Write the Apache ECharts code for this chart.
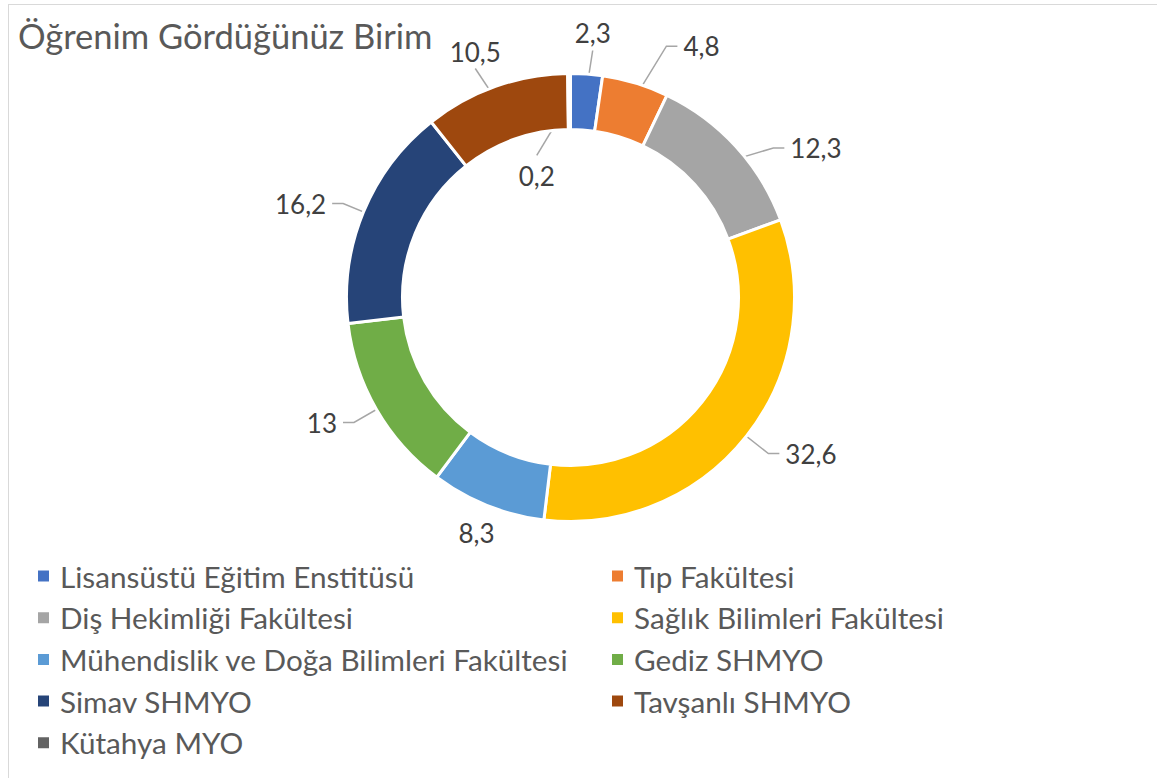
<!DOCTYPE html>
<html>
<head>
<meta charset="utf-8">
<script src="https://cdn.jsdelivr.net/npm/echarts@6/dist/echarts.min.js"></script>
<style>
  html, body { margin: 0; padding: 0; background: #fff; }
  .frame {
    position: absolute; left: 8px; top: 4px; width: 1200px; height: 800px;
    border-top: 1px solid #d9d9d9; border-left: 1px solid #d9d9d9;
  }
  .echart { position: absolute; left: 0; top: 0; width: 1157px; height: 778px; }
</style>
</head>
<body>
<div class="frame"></div>
<div class="echart" id="chart"></div>
<script>
const categories = [
  'Lisansüstü Eğitim Enstitüsü',
  'Tıp Fakültesi',
  'Diş Hekimliği Fakültesi',
  'Sağlık Bilimleri Fakültesi',
  'Mühendislik ve Doğa Bilimleri Fakültesi',
  'Gediz SHMYO',
  'Simav SHMYO',
  'Tavşanlı SHMYO',
  'Kütahya MYO'
];
const values = [2.3, 4.8, 12.3, 32.6, 8.3, 13, 16.2, 10.5, 0.2];
const colors = ['#4472C4', '#ED7D31', '#A5A5A5', '#FFC000', '#5B9BD5', '#70AD47', '#264478', '#9E480E', '#636363'];

// legend split into two columns like the original
const legendLeft = [categories[0], categories[2], categories[4], categories[6], categories[8]];
const legendRight = [categories[1], categories[3], categories[5], categories[7]];

const FONT = 'Lato';
const CX = 570.5, CY = 297.5;

// how each data label sits (excel-ish leader lines)
const labelGeom = [
  { mode: 'top', shift: 1 },
  { mode: 'side', bendR: 269, shift: 4 },
  { mode: 'side', bendR: 252, shift: 6 },
  { mode: 'side', bendR: 252, shift: 0 },
  { mode: 'bottom' },
  { mode: 'side', bendR: 250, shift: 0 },
  { mode: 'side', bendR: 246, shift: 0 },
  { mode: 'top', shift: -3 },
  { mode: 'inside', shift: -13 }
];

const total = values.reduce((a, b) => a + b, 0);
const midAngle = values.map((v, i) => {
  const before = values.slice(0, i).reduce((a, b) => a + b, 0);
  return (before + v / 2) / total * Math.PI * 2;
});
const RAD = Math.PI / 180;
const polar = (r, a) => [CX + r * Math.sin(a), CY - r * Math.cos(a)];

const layoutLabel = (params) => {
  const i = params.dataIndex;
  const a = midAngle[i];
  const g = labelGeom[i];
  const start = polar(196, a);
  if (g.mode === 'side') {
    const bend = polar(g.bendR, a + g.shift * RAD);
    const dir = Math.sin(a) > 0 ? 1 : -1;
    const end = [bend[0] + 11 * dir, bend[1]];
    return {
      x: end[0] + 6 * dir, y: end[1],
      align: dir > 0 ? 'left' : 'right', verticalAlign: 'middle',
      labelLinePoints: [start, bend, end]
    };
  }
  if (g.mode === 'top') {
    const end = polar(248, a + g.shift * RAD);
    return {
      x: end[0], y: end[1] - 4,
      align: 'center', verticalAlign: 'bottom',
      labelLinePoints: [start, end]
    };
  }
  if (g.mode === 'inside') {
    const end = polar(146, a + g.shift * RAD);
    return {
      x: end[0], y: end[1] + 8,
      align: 'center', verticalAlign: 'top',
      labelLinePoints: [start, end]
    };
  }
  const p = polar(254, a);
  return { x: p[0], y: p[1], align: 'center', verticalAlign: 'middle' };
};

const legendBase = {
  orient: 'vertical',
  top: 556,
  icon: 'rect',
  itemWidth: 13,
  itemHeight: 13,
  itemGap: 11.7,
  textStyle: { fontFamily: FONT, fontSize: 29.7, color: '#595959', lineHeight: 30, padding: [0, 0, 0, 5] }
};

const myEchart = echarts.init(document.getElementById('chart'), null, { renderer: 'svg' });
myEchart.setOption({
  animation: false,
  color: colors,
  title: {
    text: 'Öğrenim Gördüğünüz Birim',
    left: 13,
    top: 13,
    textStyle: { fontFamily: FONT, fontSize: 34.5, fontWeight: 'normal', color: '#595959' }
  },
  legend: [
    Object.assign({}, legendBase, { left: 31, data: legendLeft }),
    Object.assign({}, legendBase, { left: 605, data: legendRight })
  ],
  series: [
    {
      type: 'pie',
      center: [CX, CY],
      radius: [168, 224],
      startAngle: 90,
      clockwise: true,
      avoidLabelOverlap: false,
      itemStyle: { borderColor: '#fff', borderWidth: 3 },
      label: {
        show: true,
        position: 'outside',
        fontFamily: FONT,
        fontSize: 26,
        color: '#404040',
        formatter: (p) => String(p.value).replace('.', ',')
      },
      labelLine: { show: true, lineStyle: { color: '#A6A6A6', width: 1.5 } },
      labelLayout: layoutLabel,
      data: categories.map((name, i) => ({
        name,
        value: values[i],
        labelLine: labelGeom[i].mode === 'bottom' ? { show: false } : undefined
      }))
    }
  ]
});
</script>
</body>
</html>
